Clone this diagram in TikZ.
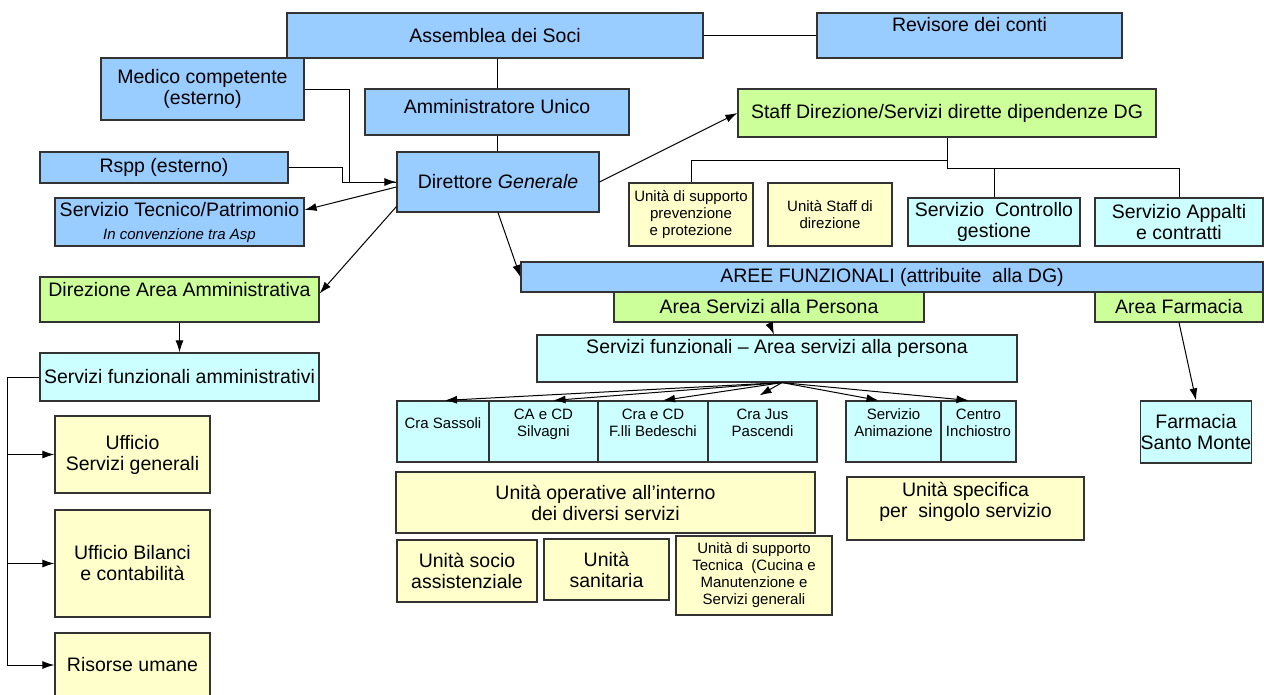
\documentclass[tikz,border=0pt]{standalone}
\usepackage{fontspec}
\setmainfont{Liberation Sans}
\usetikzlibrary{arrows.meta}

\definecolor{boxBlue}{HTML}{99CCFF}
\definecolor{boxGreen}{HTML}{CCFF99}
\definecolor{boxCyan}{HTML}{CCFFFF}
\definecolor{boxYellow}{HTML}{FFFFCC}

\newcommand{\mainfs}{\fontsize{19.5pt}{21pt}\selectfont}
\newcommand{\smallfs}{\fontsize{15pt}{17pt}\selectfont}

\tikzstyle{block} = [draw=black!80, line width=1.2pt, rectangle, align=center, inner sep=1pt, font=\mainfs]
\tikzstyle{blockBlue} = [block, fill=boxBlue]
\tikzstyle{blockGreen} = [block, fill=boxGreen]
\tikzstyle{blockCyan} = [block, fill=boxCyan]
\tikzstyle{blockYellow} = [block, fill=boxYellow]
\tikzstyle{toptext} = [anchor=north, align=center, inner sep=0pt, font=\mainfs]
\tikzstyle{arrow} = [draw, line width=1pt, -{Latex[length=12pt, width=8pt]}]
\tikzset{wh/.style 2 args={minimum width=#1pt, minimum height=#2pt}}

\begin{document}
\begin{tikzpicture}[x=1pt, y=-1pt, line width=1pt]
  \useasboundingbox (0,0) rectangle (1264,694);

  % vertice
  \node [blockBlue, wh={416}{45}] (soci) at (495,35.5) {Assemblea dei Soci};
  \node [blockBlue, wh={305}{45}, label={[toptext, yshift=-4pt]north:Revisore dei conti}] (revisore) at (969.5,35.5) {};
  \node [blockBlue, wh={203}{62}] (medico) at (202.5,89) {Medico competente\\(esterno)};
  \node [blockBlue, wh={264}{46}, label={[toptext, yshift=-10pt]north:Amministratore Unico}] (ammin) at (497,112) {};
  \node [blockBlue, wh={202}{60}] (dg) at (498,182) {Direttore \textit{Generale}};
  \node [blockBlue, wh={248}{31}] (rspp) at (164,167.5) {Rspp (esterno)};
  \node [blockBlue, wh={249}{48}] (tecnico) at (179.5,222) {Servizio Tecnico/Patrimonio\\[2pt]{\smallfs\itshape In convenzione tra Asp}};

  % staff
  \node [blockGreen, wh={418}{48}] (staff) at (947,113) {Staff Direzione/Servizi dirette dipendenze DG};
  \node [blockYellow, wh={124}{63}, font=\smallfs] (unisupp) at (691,214.5) {Unità di supporto\\prevenzione\\e protezione};
  \node [blockYellow, wh={124}{63}, font=\smallfs] (unistaff) at (830,214.5) {Unità Staff di\\direzione};
  \node [blockCyan, wh={172}{48}] (controllo) at (994,222) {Servizio~~Controllo\\gestione};
  \node [blockCyan, wh={168}{48}] (appalti) at (1179,222) {Servizio Appalti\\e contratti};

  % aree funzionali
  \node [blockBlue, wh={742}{30}] (aree) at (892,277) {AREE FUNZIONALI (attribuite~~alla DG)};
  \node [blockGreen, wh={310}{30}] (areapers) at (769,307) {Area Servizi alla Persona};
  \node [blockGreen, wh={168}{30}] (areafarm) at (1179,307) {Area Farmacia};
  \node [blockCyan, wh={480}{47}, label={[toptext, yshift=-4pt]north:Servizi funzionali -- Area servizi alla persona}] (sfpers) at (777,358.5) {};

  \node [blockCyan, wh={92}{61}, label={[toptext, font=\smallfs, yshift=-17pt]north:Cra Sassoli}] (sassoli) at (443,431.5) {};
  \node [blockCyan, wh={109}{61}, label={[toptext, font=\smallfs, yshift=-8pt]north:CA e CD\\Silvagni}] (silvagni) at (543.5,431.5) {};
  \node [blockCyan, wh={110}{61}, label={[toptext, font=\smallfs, yshift=-8pt]north:Cra e CD\\F.lli Bedeschi}] (bedeschi) at (653,431.5) {};
  \node [blockCyan, wh={109}{61}, label={[toptext, font=\smallfs, yshift=-8pt]north:Cra Jus\\Pascendi}] (jus) at (762.5,431.5) {};
  \node [blockCyan, wh={95}{61}, label={[toptext, font=\smallfs, yshift=-8pt]north:Servizio\\Animazione}] (animaz) at (893.5,431.5) {};
  \node [blockCyan, wh={75}{61}, label={[toptext, font=\smallfs, yshift=-8pt]north:Centro\\Inchiostro}] (inchiostro) at (978.5,431.5) {};
  \node [blockCyan, wh={110}{62}, inner xsep=0pt] (farm) at (1196,432) {Farmacia\\Santo Monte};

  \node [blockYellow, wh={419}{61}] (unop) at (605.5,502.5) {Unità operative all’interno\\dei diversi servizi};
  \node [blockYellow, wh={237}{63}, label={[toptext, yshift=-5pt]north:Unità specifica\\per~~singolo servizio}] (specif) at (965.5,508.5) {};
  \node [blockYellow, wh={140}{62}] (socio) at (467,571) {Unità socio\\assistenziale};
  \node [blockYellow, wh={125}{61}] (sanit) at (606.5,569.5) {Unità\\sanitaria};
  \node [blockYellow, wh={156}{79}, font=\smallfs] (tecn) at (754,575.5) {Unità di supporto\\Tecnica~~(Cucina e\\Manutenzione e\\Servizi generali};

  % area amministrativa
  \node [blockGreen, wh={279}{45}, label={[toptext, yshift=-5pt]north:Direzione Area Amministrativa}] (dirarea) at (179.5,299.5) {};
  \node [blockCyan, wh={279}{48}] (sfamm) at (179.5,377) {Servizi funzionali amministrativi};
  \node [blockYellow, wh={155}{77}] (uffsg) at (132.5,454.5) {Ufficio\\Servizi generali};
  \node [blockYellow, wh={155}{107}] (uffbil) at (132.5,563.5) {Ufficio Bilanci\\e contabilità};
  \node [blockYellow, wh={155}{64}] (risorse) at (132.5,665) {Risorse umane};

  % collegamenti
  \draw (soci.east) -- (revisore.west);
  \draw (ammin.north) -- (ammin.north |- soci.south);
  \draw (ammin.south) -- (ammin.south |- dg.north);
  \draw [arrow] (medico.east) -- ++(45,0) |- (dg.west);
  \draw (rspp.east) -- ++(54,0) |- (dg.west);
  \draw [arrow] ([yshift=-5pt]dg.west) -- ([yshift=12pt]tecnico.east);
  \draw [arrow] ([yshift=6pt]dg.south west) -- ([yshift=6pt]dirarea.east);
  \draw [arrow] (dg.south) -- (aree.west);
  \draw [arrow] (dg.east) -- (staff.west);

  \coordinate (staffL) at ([yshift=-23pt]staff.south);
  \coordinate (staffR) at ([yshift=-31pt]staff.south);
  \draw (staff.south) -- (staffR);
  \draw (unisupp.north) |- (staffL);
  \draw (controllo.north) |- (staffR);
  \draw (appalti.north) |- (staffR);

  \draw [arrow] (areapers.south) -- ([xshift=-3pt]sfpers.north);
  \coordinate (sfout) at ([xshift=5pt]sfpers.south);
  \draw [arrow] (sfout) -- ([xshift=2pt]sassoli.north);
  \draw [arrow] (sfout) -- ([xshift=10pt]silvagni.north);
  \draw [arrow] (sfout) -- ([xshift=10pt]bedeschi.north);
  \draw [arrow] (sfout) -- ([xshift=-3pt, yshift=5pt]jus.north);
  \draw [arrow] (sfout) -- ([xshift=-15pt]animaz.north);
  \draw [arrow] (sfout) -- ([xshift=-10pt]inchiostro.north);
  \draw [arrow] (areafarm.south) -- (farm.north);

  \draw [arrow] (dirarea.south) -- (sfamm.north);
  \draw [arrow] (sfamm.west) -| ([xshift=-47pt]risorse.west) -- (risorse.west);
  \draw [arrow] ([xshift=-47pt]uffsg.west) -- (uffsg.west);
  \draw [arrow] ([xshift=-47pt]uffbil.west) -- (uffbil.west);
\end{tikzpicture}
\end{document}
